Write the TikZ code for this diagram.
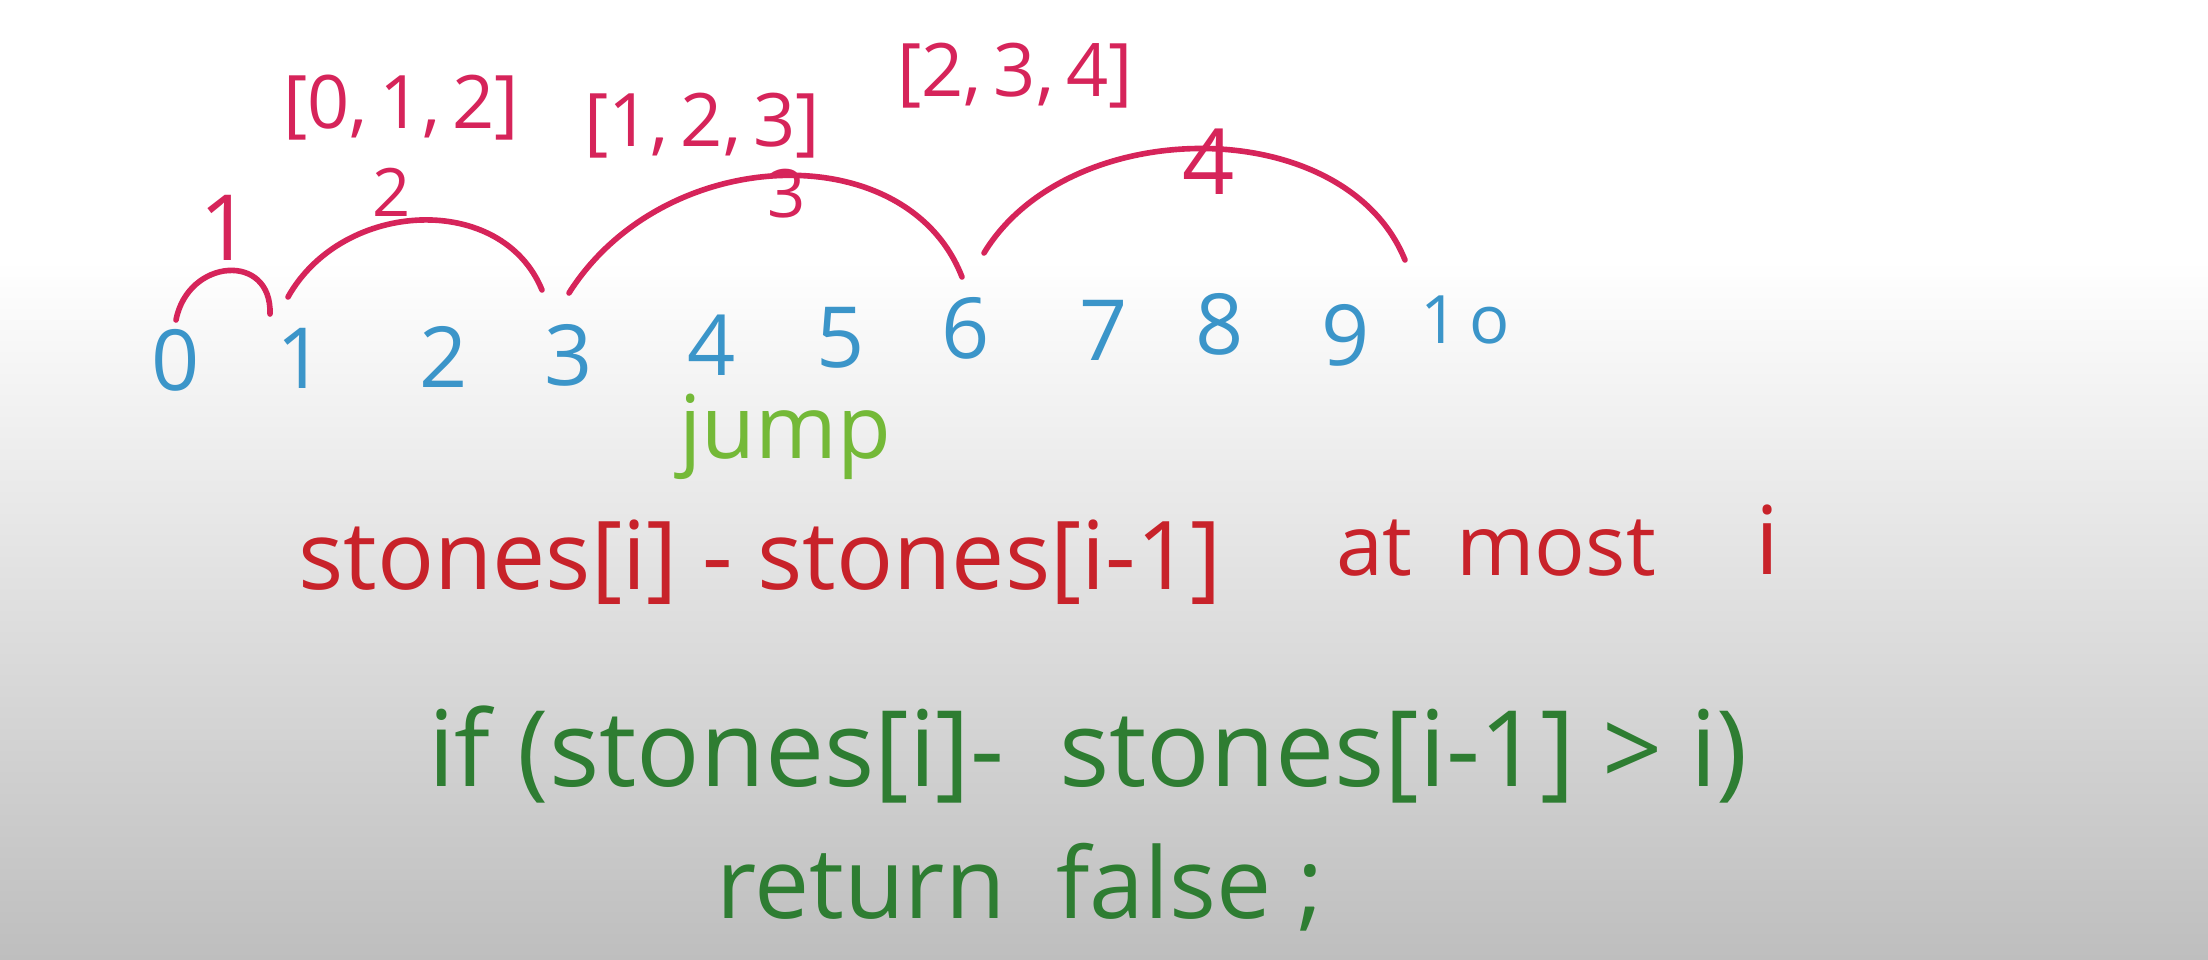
\documentclass[tikz,border=0pt]{standalone}
\usepackage{fontspec}
\setmainfont{Open Sans}
\usepackage{xcolor}
\usepackage{tikz}
\usetikzlibrary{positioning, calc}
\definecolor{arcred}{RGB}{214,36,90}
\definecolor{stoneblue}{RGB}{59,149,201}
\definecolor{jumpgreen}{RGB}{116,185,56}
\definecolor{notered}{RGB}{200,34,42}
\definecolor{codegreen}{RGB}{46,125,50}
\definecolor{boardgray}{RGB}{190,190,190}

\begin{document}
\begin{tikzpicture}[
        x=0.1mm, y=-0.1mm,
        digit/.style={inner sep=0pt, text=stoneblue, font=\fontsize{24}{28}\selectfont},
        jumplen/.style={inner sep=0pt, text=arcred, font=\fontsize{19}{23}\selectfont},
        reach/.style={inner sep=0pt, text=arcred, font=\fontsize{21}{25}\selectfont},
        note/.style={inner sep=0pt, text=notered, font=\fontsize{27}{32}\selectfont},
        code/.style={inner sep=0pt, text=codegreen, font=\fontsize{30}{36}\selectfont},
        jumparc/.style={draw=arcred, line width=1.6pt, line cap=round}
    ]
        % Board
        \useasboundingbox (0,0) rectangle (2208,960);
        \fill[white] (0,0) rectangle (2208,270);
        \shade[top color=white, bottom color=boardgray] (0,260) rectangle (2208,960);

        % Stones
        \foreach \n/\x/\y in {0/176/360, 1/301/358, 2/444/357, 3/569/355, 4/712/345,
                              5/841/338, 6/966/328, 7/1104/330, 8/1220/324, 9/1346/335}
            \node[digit] (d\n) at (\x,\y) {\n};
        \node[digit, font=\fontsize{19}{22}\selectfont] (d10) at (1465,320) {1\,o};

        % Arc ends
        \coordinate (a1s) at (176,320);  \coordinate (a1e) at (270,314);
        \coordinate (a2s) at (288,297);  \coordinate (a2e) at (542,290);
        \coordinate (a3s) at (569,293);  \coordinate (a3e) at (962,277);
        \coordinate (a4s) at (984,253);  \coordinate (a4e) at (1405,260);

        % Jumps
        \draw[jumparc] (a1s) .. controls +(12,-62) and +(2,-62) .. (a1e);
        \draw[jumparc] (a2s) .. controls +(55,-98) and +(-40,-98) .. (a2e);
        \draw[jumparc] (a3s) .. controls +(95,-150) and +(-55,-142) .. (a3e);
        \draw[jumparc] (a4s) .. controls +(85,-140) and +(-60,-148) .. (a4e);

        % Jump sizes
        \node[jumplen, font=\fontsize{26}{30}\selectfont] (k1) at (226,228) {1};
        \node[jumplen] (k2) at (392,192) {2};
        \node[jumplen] (k3) at (787,194) {3};
        \node[jumplen, font=\fontsize{26}{30}\selectfont] (k4) at (1209,162) {4};

        % Next jump options
        \node[reach] (r1) at (401,108) {[0,\,1,\,2]};
        \node[reach] (r2) at (702,126) {[1,\,2,\,3]};
        \node[reach] (r3) at (1015,76) {[2,\,3,\,4]};

        \node[inner sep=0pt, text=jumpgreen, font=\fontsize{25}{30}\selectfont] (jump) at (785,437) {jump};

        % Rule
        \node[note] (diff) at (760,562) {stones[i] - stones[i-1]};
        \node[note, font=\fontsize{24}{28}\selectfont] (most) at (1496,548) {at\ \ most};
        \node[note] (idx) at (1767,540) {i};

        % Check
        \node[code] (cond) at (1088,754) {if (stones[i]- \ stones[i-1] > i)};
        \node[code, font=\fontsize{28}{33}\selectfont] (ret) at (1020,887) {return\ \ false ;};
    \end{tikzpicture}
\end{document}
